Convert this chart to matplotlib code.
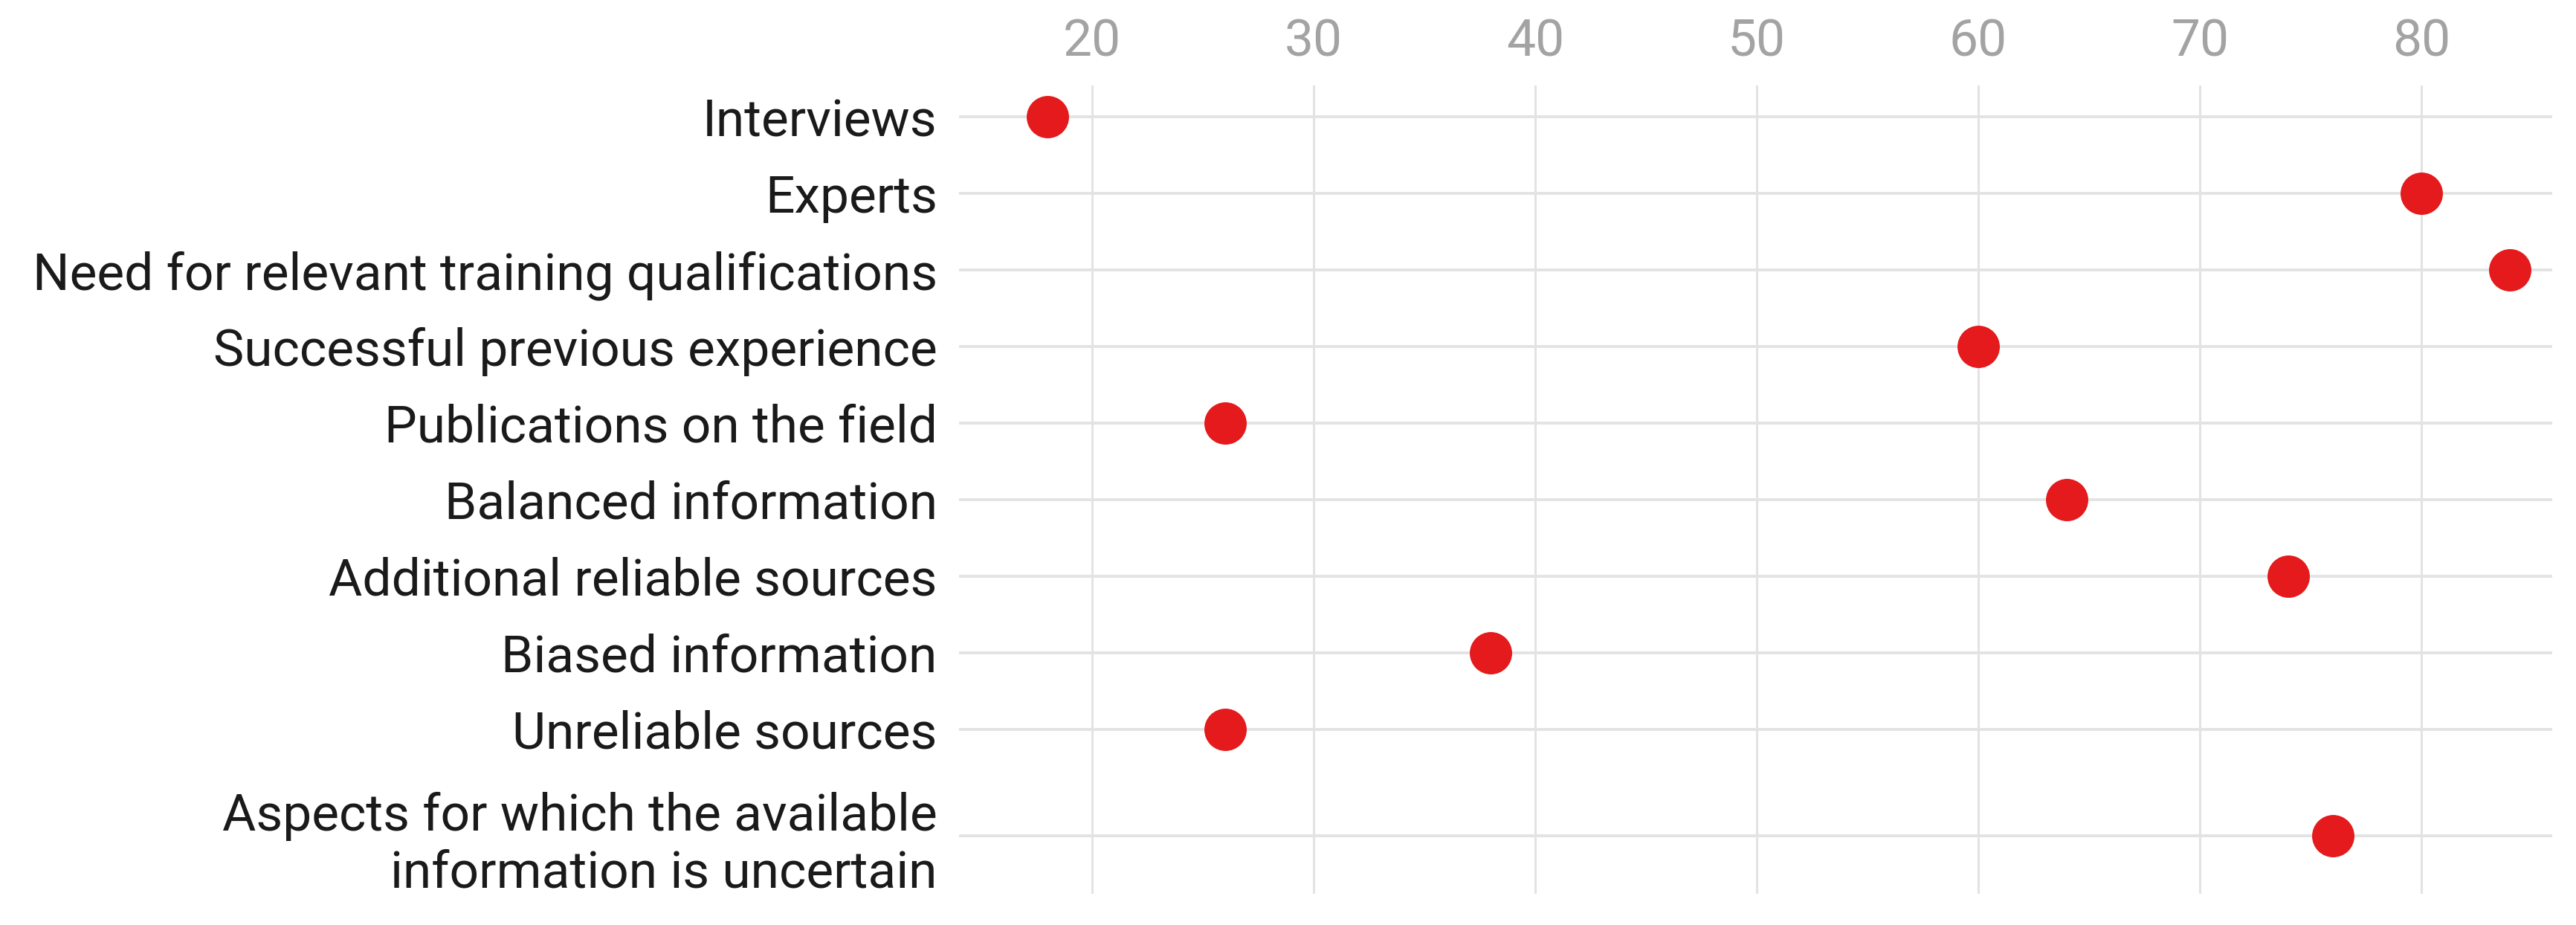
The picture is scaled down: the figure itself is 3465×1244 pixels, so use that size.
import matplotlib.pyplot as plt
import numpy as np

plt.rcParams["font.family"] = ["Roboto", "DejaVu Sans"]

categories = [
    "Interviews",
    "Experts",
    "Need for relevant training qualifications",
    "Successful previous experience",
    "Publications on the field",
    "Balanced information",
    "Additional reliable sources",
    "Biased information",
    "Unreliable sources",
    "Aspects for which the available\ninformation is uncertain",
]
values = [18, 80, 84, 60, 26, 64, 74, 38, 26, 76]
x_ticks = [20, 30, 40, 50, 60, 70, 80]

# rows are evenly spaced, the two-line label gets a wider gap
rows = np.arange(len(categories), dtype=float)
rows[-1] += 0.39

fig = plt.figure(figsize=(34.66, 12.44), dpi=100)
ax = fig.add_axes([1290 / 3466, 1 - 1202 / 1244, (3433 - 1290) / 3466, (1202 - 115) / 1244])

ax.scatter(values, rows, s=41 ** 2, color="#e41a1c", zorder=3, linewidths=0)

ax.set_xlim(14.0, 85.9)
ax.set_ylim(10.15, -0.41)
ax.set_xticks(x_ticks)
ax.set_yticks(rows)
ax.set_yticklabels(categories, linespacing=1.2)
ax.xaxis.tick_top()

ax.tick_params(axis="x", length=0, pad=18, labelsize=50, labelcolor="#a3a3a3")
ax.tick_params(axis="y", length=0, pad=21, labelsize=50, labelcolor="#1a1a1a")

ax.set_axisbelow(True)
ax.grid(axis="x", color="#e3e3e3", linewidth=2.2)
ax.grid(axis="y", color="#e3e3e3", linewidth=2.8)
for s in ax.spines.values():
    s.set_visible(False)

plt.savefig("out.png", dpi=100)
